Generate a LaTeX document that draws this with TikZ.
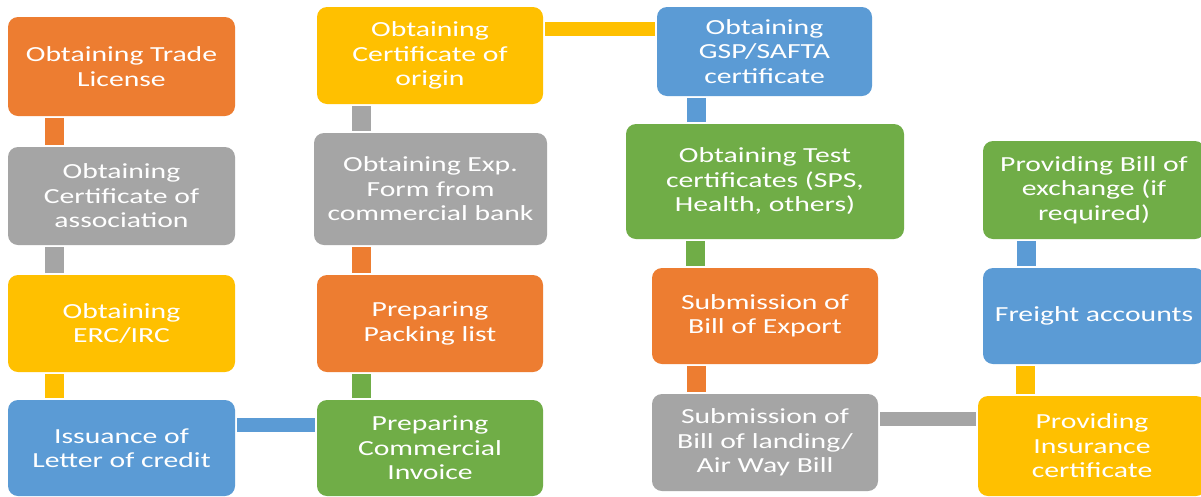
\documentclass[tikz,border=0pt]{standalone}
\usepackage{fontspec}
\setmainfont{Carlito}[FakeStretch=1.38]
\usepackage{xcolor}
\usepackage{tikz}
\usetikzlibrary{positioning}
\definecolor{tOrange}{HTML}{ED7D31}
\definecolor{tGray}{HTML}{A5A5A5}
\definecolor{tYellow}{HTML}{FFC000}
\definecolor{tBlue}{HTML}{5B9BD5}
\definecolor{tGreen}{HTML}{70AD47}

\begin{document}
\begin{tikzpicture}[x=1pt, y=-1pt,
  stagebox/.style={fill=#1, rounded corners=10, text=white, align=center, inner sep=0,
    font=\fontsize{21.5}{24.5}\selectfont, minimum width=227, minimum height=97},
  vlink/.style={draw=#1, line width=19, shorten <=2, shorten >=2},
  hlink/.style={draw=#1, line width=14, shorten <=2, shorten >=2}]
\path[use as bounding box, fill=white] (0,0) rectangle (1201,496);
%first column
\node[stagebox=tOrange, minimum height=99] (v1) at (121.5,66.5) {Obtaining Trade\\License};
\node[stagebox=tGray, minimum height=98] (v2) at (121.5,196) {Obtaining\\Certificate of\\association};
\node[stagebox=tYellow] (v3) at (121.5,323.5) {Obtaining\\ERC/IRC};
\node[stagebox=tBlue, minimum height=96] (v4) at (121.5,448) {Issuance of\\Letter of credit};
%second column
\node[stagebox=tGreen, minimum width=226, minimum height=96] (v5) at (430,448) {Preparing\\Commercial\\Invoice};
\node[stagebox=tOrange, minimum width=226] (v6) at (430,323.5) {Preparing\\Packing list};
\node[stagebox=tGray, minimum width=233, minimum height=112] (v7) at (430.5,189) {Obtaining Exp.\\Form from\\commercial bank};
\node[stagebox=tYellow, minimum width=226] (v8) at (430,55.5) {Obtaining\\Certificate of\\origin};
%third column
\node[stagebox=tBlue, minimum width=215, minimum height=89] (v9) at (764.5,51.5) {Obtaining\\GSP/SAFTA\\certificate};
\node[stagebox=tGreen, minimum width=278, minimum height=115] (v10) at (765,181.5) {Obtaining Test\\certificates (SPS,\\Health, others)};
\node[stagebox=tOrange, minimum width=226, minimum height=96] (v11) at (765,316) {Submission of\\Bill of Export};
\node[stagebox=tGray, minimum width=226] (v12) at (765,442.5) {Submission of\\Bill of landing/\\Air Way Bill};
%fourth column
\node[stagebox=tYellow, minimum width=228, minimum height=100] (v13) at (1092,446) {Providing\\Insurance\\certificate};
\node[stagebox=tBlue, minimum width=222, minimum height=96] (v14) at (1094,316) {Freight accounts};
\node[stagebox=tGreen, minimum width=222, minimum height=98] (v15) at (1094,190) {Providing Bill of\\exchange (if\\required)};
\draw[vlink=tOrange] ([xshift=47]v1.south west) -- ([xshift=47]v2.north west);
\draw[vlink=tGray] ([xshift=47]v2.south west) -- ([xshift=47]v3.north west);
\draw[vlink=tYellow] ([xshift=47]v3.south west) -- ([xshift=47]v4.north west);
\draw[hlink=tBlue] ([yshift=-25]v4.north east) -- ([yshift=-25]v5.north west);
\draw[vlink=tGreen] ([xshift=45]v5.north west) -- ([xshift=45]v6.south west);
\draw[vlink=tOrange] ([xshift=45]v6.north west) -- ([xshift=48]v7.south west);
\draw[vlink=tGray] ([xshift=48]v7.north west) -- ([xshift=45]v8.south west);
\draw[hlink=tYellow] ([yshift=-22]v8.north east) -- ([yshift=-22]v9.north west);
\draw[vlink=tBlue] ([xshift=40]v9.south west) -- ([xshift=71]v10.north west);
\draw[vlink=tGreen] ([xshift=70]v10.south west) -- ([xshift=44]v11.north west);
\draw[vlink=tOrange] ([xshift=45]v11.south west) -- ([xshift=45]v12.north west);
\draw[hlink=tGray] ([yshift=-25]v12.north east) -- ([yshift=-23]v13.north west);
\draw[vlink=tYellow] ([xshift=48]v13.north west) -- ([xshift=43]v14.south west);
\draw[vlink=tBlue] ([xshift=44]v14.north west) -- ([xshift=44]v15.south west);
\end{tikzpicture}
\end{document}
